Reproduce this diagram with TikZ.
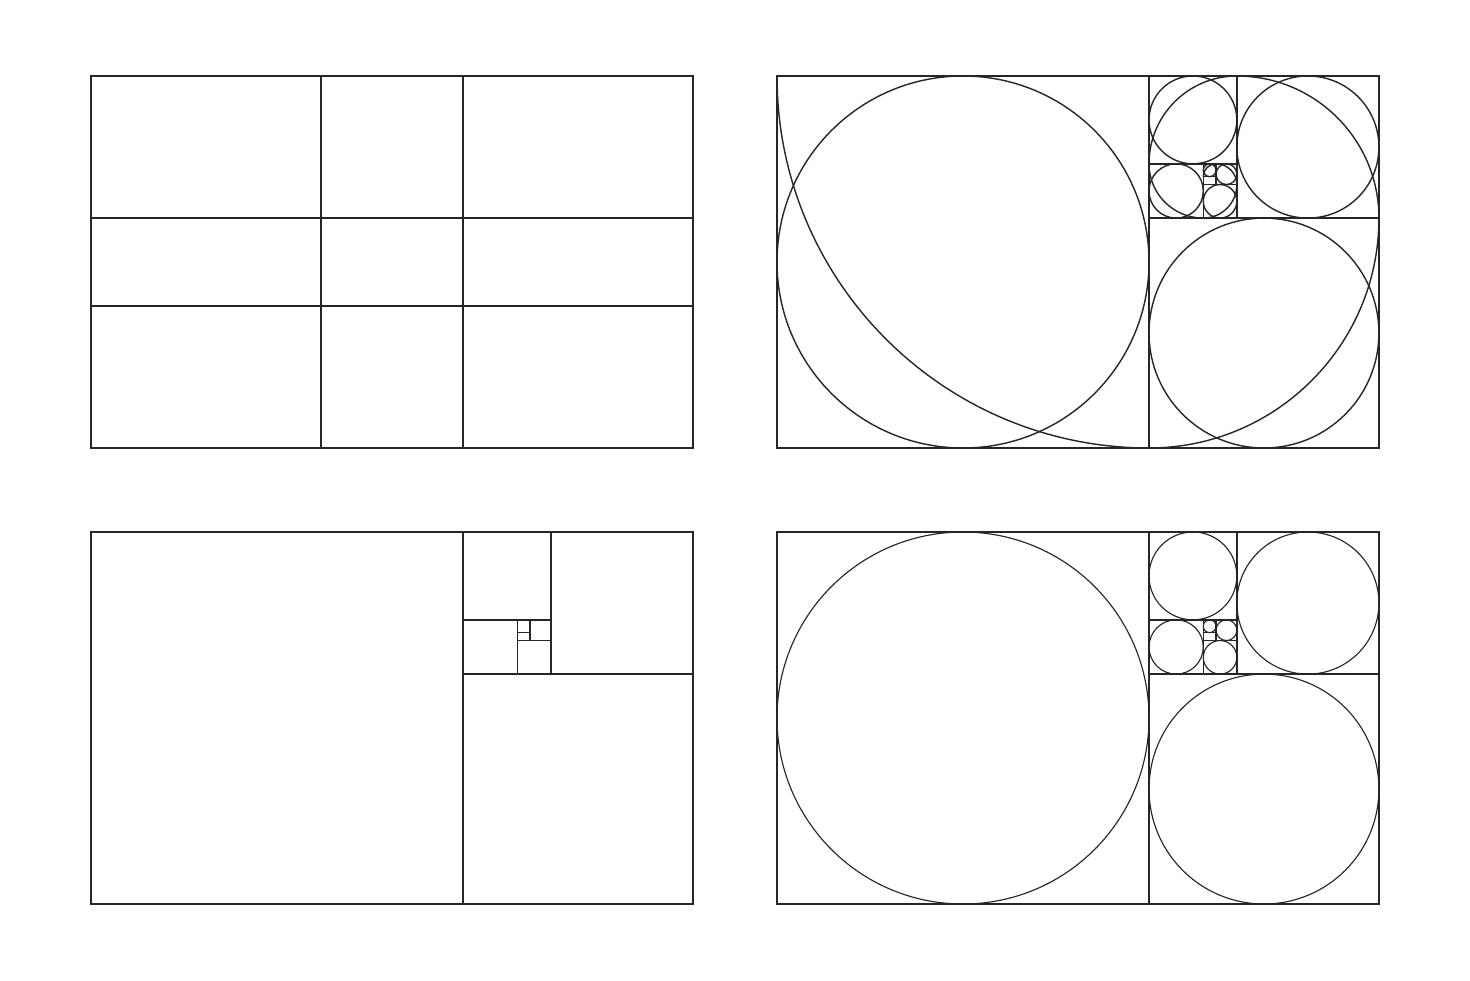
\documentclass[tikz,border=0pt]{standalone}
\begin{document}
\begin{tikzpicture}[x=0.02cm,y=-0.02cm,
  frame/.style={line width=0.95pt,draw=black!85},
  sub/.style={line width=0.85pt,draw=black!85},
  ring/.style={line width=0.65pt,draw=black!85},
  ringb/.style={line width=0.8pt,draw=black!85},
  spiral/.style={line width=0.8pt,draw=black!85}]
\def\gA{372}\def\gB{229.91}\def\gC{142.09}\def\gD{87.82}\def\gE{54.27}\def\gF{33.54}\def\gG{20.73}\def\gH{12.81}\def\gW{601.91}
\newcommand\GRsquares{%
  \draw[sub] (\gA,0) -- (\gA,\gA);
  \draw[sub] (\gA,\gC) -- (\gW,\gC);
  \draw[sub] (\gA+\gD,0) -- (\gA+\gD,\gC);
  \draw[sub] (\gA,\gD) -- (\gA+\gD,\gD);
  \draw[sub] (\gA+\gE,\gD) -- (\gA+\gE,\gC);
  \draw[sub] (\gA+\gE,\gD+\gG) -- (\gA+\gD,\gD+\gG);
  \draw[sub] (\gA+\gE+\gH,\gD) -- (\gA+\gE+\gH,\gD+\gG);
  \draw[sub] (\gA+\gE,\gD+\gH) -- (\gA+\gE+\gH,\gD+\gH);
}
\newcommand\GRcircles[1]{%
  \draw[#1] (\gA/2,\gA/2) circle[radius=\gA/2];
  \draw[#1] (\gA+\gB/2,\gC+\gB/2) circle[radius=\gB/2];
  \draw[#1] (\gA+\gD+\gC/2,\gC/2) circle[radius=\gC/2];
  \draw[#1] (\gA+\gD/2,\gD/2) circle[radius=\gD/2];
  \draw[#1] (\gA+\gE/2,\gD+\gE/2) circle[radius=\gE/2];
  \draw[#1] (\gA+\gE+\gF/2,\gD+\gG+\gF/2) circle[radius=\gF/2];
  \draw[#1] (\gA+\gE+\gH+\gG/2,\gD+\gG/2) circle[radius=\gG/2];
  \draw[#1] (\gA+\gE+\gH/2,\gD+\gH/2) circle[radius=\gH/2];
}
\useasboundingbox (0,0) rectangle (1470,980);
\fill[white] (0,0) rectangle (1470,980);

% top-left: phi grid
\begin{scope}[shift={(91,76)}]
  \draw[sub] (\gB,0) -- (\gB,\gA);
  \draw[sub] (\gA,0) -- (\gA,\gA);
  \draw[sub] (0,\gC) -- (\gW,\gC);
  \draw[sub] (0,\gB) -- (\gW,\gB);
  \draw[frame] (0,0) rectangle (\gW,\gA);
\end{scope}

% top-right: squares, circles and spiral
\begin{scope}[shift={(777,76)}]
  \GRcircles{ringb}
  \draw[spiral] (0,0) arc[start angle=180,end angle=90,radius=\gA]
    arc[start angle=90,end angle=0,radius=\gB]
    arc[start angle=0,end angle=-90,radius=\gC]
    arc[start angle=-90,end angle=-180,radius=\gD]
    arc[start angle=180,end angle=90,radius=\gE]
    arc[start angle=90,end angle=0,radius=\gF]
    arc[start angle=0,end angle=-90,radius=\gG]
    arc[start angle=-90,end angle=-180,radius=\gH];
  \GRsquares
  \draw[frame] (0,0) rectangle (\gW,\gA);
\end{scope}

% bottom-left: squares only
\begin{scope}[shift={(91,532)}]
  \GRsquares
  \draw[frame] (0,0) rectangle (\gW,\gA);
\end{scope}

% bottom-right: squares and circles
\begin{scope}[shift={(777,532)}]
  \GRcircles{ring}
  \GRsquares
  \draw[frame] (0,0) rectangle (\gW,\gA);
\end{scope}
\end{tikzpicture}
\end{document}
